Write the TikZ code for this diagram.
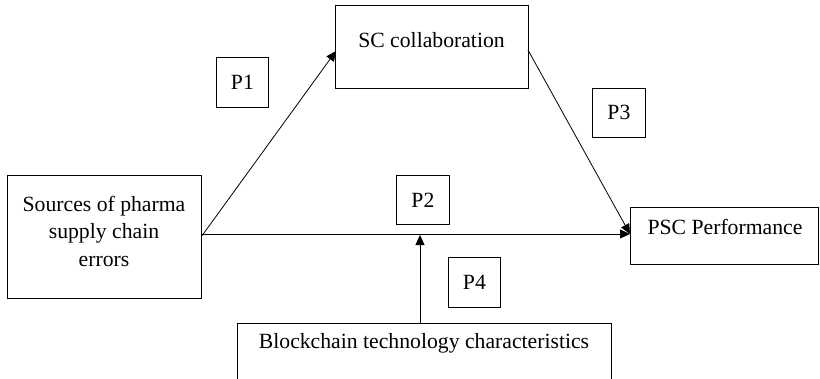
\documentclass[tikz,border=0pt]{standalone}
\usepackage{fontspec}
\setmainfont{Liberation Serif}
\usetikzlibrary{arrows.meta}
\begin{document}
\begin{tikzpicture}[x=1pt,y=-1pt,
  box/.style={draw=black,line width=0.8pt,inner sep=0pt,anchor=north west},
  lbl/.style={inner sep=0pt,align=center,font=\fontsize{21.7}{27.5}\selectfont},
  link/.style={line width=0.8pt,-{Triangle[length=10pt,width=9pt]}}]
\useasboundingbox (0,0) rectangle (820,378);
% main construct boxes
\node[box,minimum width=193pt,minimum height=83pt] (sc) at (335,5) {};
\node[box,minimum width=194pt,minimum height=123pt] (src) at (7,175) {};
\node[box,minimum width=188pt,minimum height=57pt] (psc) at (630,207) {};
\node[box,minimum width=374pt,minimum height=70pt] (bc) at (237,323) {};
% proposition boxes
\node[box,minimum width=52pt,minimum height=50pt] (p1) at (216,57) {};
\node[box,minimum width=53pt,minimum height=49pt] (p2) at (396,175) {};
\node[box,minimum width=53pt,minimum height=49pt] (p3) at (592,88) {};
\node[box,minimum width=52pt,minimum height=50pt] (p4) at (448,257) {};
% texts
\node[lbl] at (431.5,40) {SC collaboration};
\node[lbl] at (104,231) {Sources of pharma\\supply chain\\errors};
\node[lbl] at (725,227) {PSC Performance};
\node[lbl] at (424,343) {Blockchain technology characteristics};
\node[lbl] at (p1.center) {P1};
\node[lbl] at (p2.center) {P2};
\node[lbl] at (p3.center) {P3};
\node[lbl] at (p4.center) {P4};
% connectors
\coordinate (srcout) at (src.north east |- 0,236);
\coordinate (pscin) at (psc.north west |- 0,234);
\coordinate (scin) at (336,51);
\coordinate (scout) at (528,50);
\coordinate (mod) at (420,235);
\draw[link] (srcout) -- (scin);
\draw[link] (scout) -- (pscin);
\draw[link] (srcout |- pscin) -- (pscin);
\draw[link] (bc.north -| mod) -- (mod);
\end{tikzpicture}
\end{document}
